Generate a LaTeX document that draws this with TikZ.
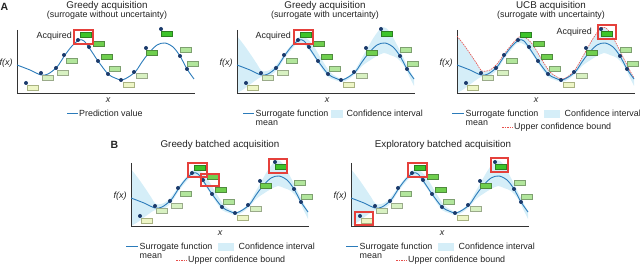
\documentclass[tikz,border=0pt]{standalone}
\usepackage{fontspec}
\setmainfont{Liberation Sans}
\usetikzlibrary{positioning}

\definecolor{meanblue}{HTML}{2B7BBA}
\definecolor{dotnavy}{HTML}{1B3A6B}
\definecolor{bandblue}{HTML}{D5EEF8}
\definecolor{boxred}{HTML}{E5403B}
\definecolor{ucbred}{HTML}{E8504C}
\definecolor{axisgray}{HTML}{333333}
\definecolor{txt}{HTML}{222222}
\definecolor{barfA}{HTML}{EEF6C6}\definecolor{bardA}{HTML}{A9B282}
\definecolor{barfB}{HTML}{D8F1C2}\definecolor{bardB}{HTML}{9AAA8A}
\definecolor{barfC}{HTML}{B2E69C}\definecolor{bardC}{HTML}{7EA070}
\definecolor{barfD}{HTML}{6FCF4E}\definecolor{bardD}{HTML}{4F8A3E}
\definecolor{barfE}{HTML}{3DC42A}\definecolor{bardE}{HTML}{2C7F22}

\tikzset{
  meanline/.style={meanblue, line width=0.9pt},
  ucbline/.style={ucbred, line width=0.6pt, dash pattern=on 1.6pt off 0.9pt},
  band/.style={fill=bandblue},
  axisline/.style={axisgray, line width=0.8pt},
  pickbox/.style={draw=boxred, line width=1.2pt},
  obsdot/.style={circle, fill=dotnavy, inner sep=0pt, minimum size=4pt},
  bar/.style={draw=bard#1, fill=barf#1, line width=0.5pt, minimum width=11pt, minimum height=4.6pt, inner sep=0pt},
  ttl/.style={font=\fontsize{9.8}{10}\selectfont, text=txt, inner sep=0pt},
  sub/.style={font=\fontsize{8.9}{9}\selectfont, text=txt, inner sep=0pt},
  lbl/.style={font=\fontsize{8.9}{8.6}\selectfont, text=txt, inner sep=1pt},
  axlbl/.style={font=\fontsize{9}{10}\selectfont\itshape, text=txt, inner sep=0pt},
  panlbl/.style={font=\fontsize{10.5}{11}\selectfont\bfseries, text=txt, inner sep=0pt},
}

\newcommand{\drawaxes}[1]{%
  \coordinate (#1top) at (237,30);
  \coordinate (#1o) at (237,93);
  \coordinate (#1end) at (415,93);
  \draw[axisline] (#1top) -- (#1o) -- (#1end);
  \node[axlbl] (#1fx) at (226,63) {f(x)};
}
\newcommand{\drawmean}{\draw[meanline] plot[smooth] coordinates {(237,65) (250,70) (261,75) (268,74) (277,67) (285,55) (292,46) (299,40) (304,41) (310,49) (318,61) (328,74) (335,78) (342,80) (350,76) (356,71) (362,62) (368,54) (377,45) (385,43) (393,47) (400,56) (407,69) (414,79)};}
\newcommand{\drawband}{\fill[band] plot[smooth] coordinates {(237,36) (244,45) (251,55) (257,64) (262,71) (270,70) (277,64) (288,49) (299,37) (306,38) (313,45) (322,60) (330,72) (337,77) (343,79) (350,75) (355,70) (362,58) (367,49) (374,37) (381,28) (386,28) (391,34) (397,45) (403,57) (409,69) (414,78)} -- (414,86) -- plot[smooth] coordinates {(410,78) (404,66) (397,58) (390,55) (384,53) (377,56) (369,61) (362,66) (356,73) (349,79) (342,82) (335,80) (328,77) (320,66) (312,54) (305,45) (298,43) (291,50) (284,59) (277,70) (268,77) (261,77) (252,83) (244,89) (237,93)} -- cycle;}
\newcommand{\drawucb}{\draw[ucbline] plot[smooth] coordinates {(237,36) (244,45) (251,55) (257,64) (262,71) (270,70) (277,64) (288,49) (299,37) (306,38) (313,45) (322,60) (330,72) (337,77) (343,79) (350,75) (355,70) (362,58) (367,49) (374,37) (381,28) (386,28) (391,34) (397,45) (403,57) (409,69) (414,78)};}
\newcommand{\drawdata}[1]{%
  \foreach \bx/\by/\lv [count=\k] in {253/88/A, 268/78/B, 283/73/B, 292/61/C, 306/35/E, 319/44/D, 327/57/D,
      335/69/C, 349/85/A, 362/76/B, 372/53/D, 387/34/E, 406/50/C, 413/64/C}
    {\node[bar=\lv] (#1b\k) at (\bx,\by) {};}
  \foreach \px/\py [count=\k] in {246/83, 261/73, 276/68, 284/55, 298/40, 309/47, 318/61,
      328/74, 341/80, 354/72, 366/48, 381/29, 400/56, 407/69}
    {\node[obsdot] (#1d\k) at (\px,\py) {};}
}
\newcommand{\legendfull}[1]{%
  \coordinate (#1m1) at (232,113);
  \coordinate (#1m2) at (244,113);
  \draw[meanline] (#1m1) -- (#1m2);
  \node[lbl, align=left, anchor=west] (#1mtxt) at (244.5,118) {Surrogate function\\mean};
  \fill[band] (324,110) rectangle (340,118);
  \node[lbl, anchor=west] (#1ci) at (343.5,113.5) {Confidence interval};
  \coordinate (#1u1) at (282,127.5);
  \coordinate (#1u2) at (293,127.5);
  \draw[ucbline] (#1u1) -- (#1u2);
  \node[lbl, right=0pt of #1u2] (#1ub) {Upper confidence bound};
}

\begin{document}
\begin{tikzpicture}[x=1pt, y=-1pt]
  \useasboundingbox (0,0) rectangle (640,264);
  \node[panlbl] (labA) at (4.5,7) {A};
  \node[panlbl] (labB) at (114.5,145) {B};

  % A: greedy, no uncertainty
  \begin{scope}[shift={(-220,0)}]
    \node[ttl] (a1title) at (327,6) {Greedy acquisition};
    \node[sub] (a1sub) at (327,15.5) {(surrogate without uncertainty)};
    \drawaxes{a1}
    \node[axlbl] (a1x) at (328,100) {x};
    \drawmean
    \drawdata{a1}
    \draw[pickbox] (294,30) rectangle (313,44);
    \node[lbl, anchor=east] (a1acq) at (293,36) {Acquired};
    \coordinate (a1p1) at (287,113);
    \coordinate (a1p2) at (298,113);
    \draw[meanline] (a1p1) -- (a1p2);
    \node[lbl, right=0pt of a1p2] (a1pv) {Prediction value};
  \end{scope}

  % A: greedy, with uncertainty
  \begin{scope}
    \node[ttl] (a2title) at (325,6) {Greedy acquisition};
    \node[sub] (a2sub) at (325,15.5) {(surrogate with uncertainty)};
    \drawband
    \drawaxes{a2}
    \node[axlbl] (a2x) at (327,100) {x};
    \drawmean
    \drawdata{a2}
    \draw[pickbox] (294,30) rectangle (313,44);
    \node[lbl, anchor=east] (a2acq) at (292,36) {Acquired};
    \coordinate (a2m1) at (243,113);
    \coordinate (a2m2) at (254,113);
    \draw[meanline] (a2m1) -- (a2m2);
    \node[lbl, align=left, anchor=west] (a2mtxt) at (254.5,118) {Surrogate function\\mean};
    \fill[band] (331,110) rectangle (343,118);
    \node[lbl, anchor=west] (a2ci) at (345.5,113.5) {Confidence interval};
  \end{scope}

  % A: UCB
  \begin{scope}[shift={(220,0)}]
    \node[ttl] (a3title) at (331,5.5) {UCB acquisition};
    \node[sub] (a3sub) at (331,15.5) {(surrogate with uncertainty)};
    \drawband
    \drawaxes{a3}
    \node[axlbl] (a3x) at (316,100) {x};
    \drawucb
    \drawmean
    \drawdata{a3}
    \draw[pickbox] (378,25) rectangle (396,39);
    \node[lbl, anchor=east] (a3acq) at (373,32) {Acquired};
    \legendfull{a3}
  \end{scope}

  % B: greedy batch
  \begin{scope}[shift={(-106,133)}]
    \node[ttl] (b1title) at (326,12) {Greedy batched acquisition};
    \drawband
    \drawaxes{b1}
    \node[axlbl] (b1x) at (326,100) {x};
    \drawmean
    \drawdata{b1}
    \draw[pickbox] (294,30) rectangle (313,44);
    \draw[pickbox] (307,41) rectangle (325,53);
    \draw[pickbox] (375,26) rectangle (393,40);
    \legendfull{b1}
  \end{scope}

  % B: exploratory batch
  \begin{scope}[shift={(114,133)}]
    \node[ttl] (b2title) at (329,12) {Exploratory batched acquisition};
    \drawband
    \drawaxes{b2}
    \node[axlbl] (b2x) at (328,100) {x};
    \drawmean
    \drawdata{b2}
    \draw[pickbox] (294,30) rectangle (313,44);
    \draw[pickbox] (377,25) rectangle (394,39);
    \draw[pickbox] (241,79) rectangle (259,92);
    \legendfull{b2}
  \end{scope}
\end{tikzpicture}
\end{document}
